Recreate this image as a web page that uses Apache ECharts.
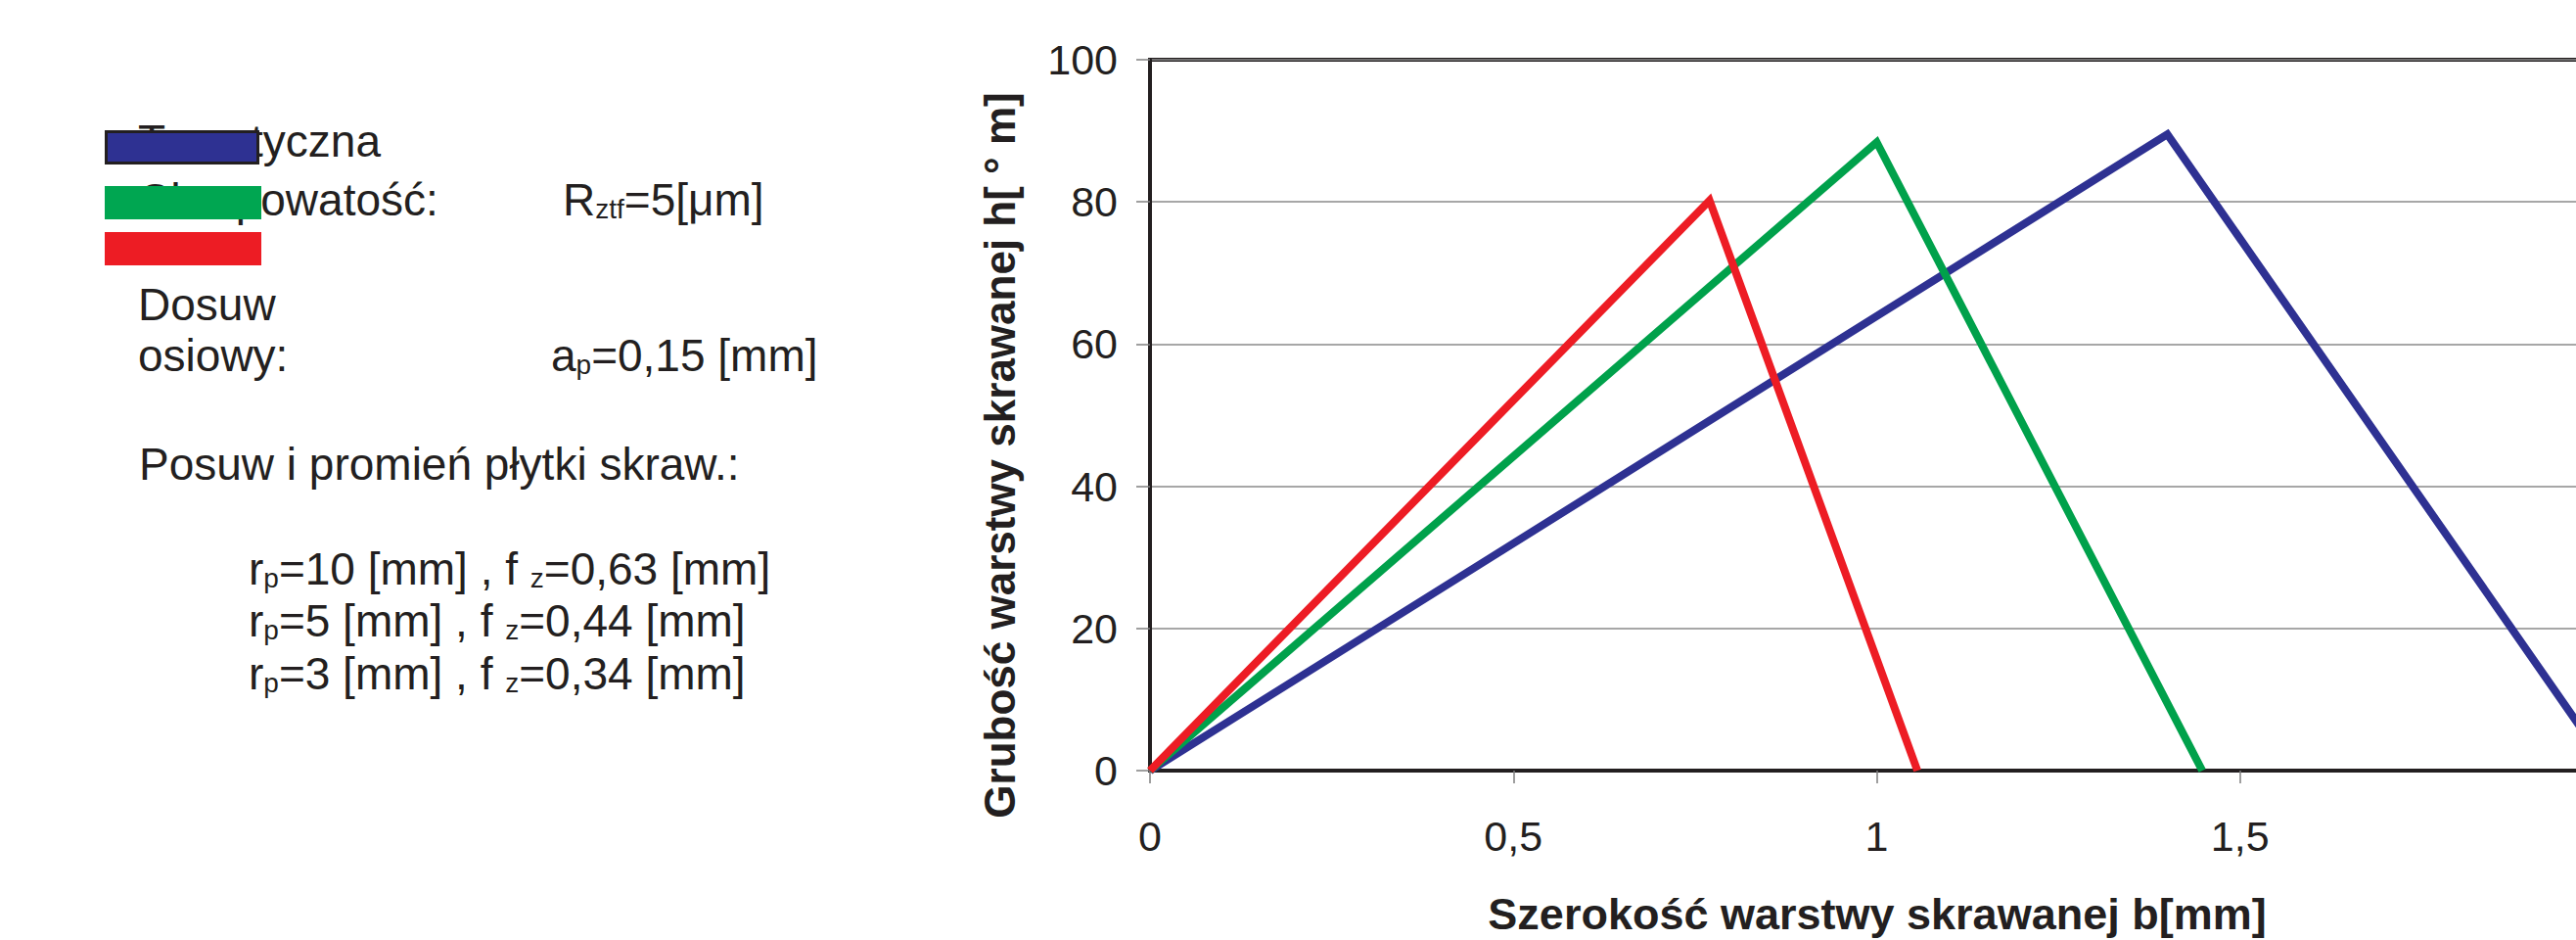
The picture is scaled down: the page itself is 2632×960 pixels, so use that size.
<!DOCTYPE html>
<html>
<head>
<meta charset="utf-8">
<title>Grubość warstwy skrawanej</title>
<script src="https://cdn.jsdelivr.net/npm/echarts@6/dist/echarts.min.js"></script>
<style>
html, body { margin: 0; padding: 0; background: #fff; overflow: hidden; }
/* wykres celowo szerszy niż okno: oś X kończy się poza kadrem */
#chart { width: 2700px; height: 960px; }
</style>
</head>
<body>
<div id="chart"></div>
<script>
// szerokość b [mm] i grubość h warstwy skrawanej dla trzech przypadków
var bTeor = [0, 1.40, 2.01];
var hTeor = [0, 89.5, 0];
var bRp5 = [0, 1.0, 1.448];
var hRp5 = [0, 88.4, 0];
var bRp3 = [0, 0.77, 1.056];
var hRp3 = [0, 80.2, 0];

var xTicks = ['0', '0,5', '1', '1,5', '2'];
var yTicks = ['0', '20', '40', '60', '80', '100'];

var seriesNames = ['Teoretyczna', 'rp=5', 'rp=3'];

// opis po lewej (n = zwykły tekst, s = indeks dolny)
var opisLinie = [
  '{n|Teoretyczna}',
  '{n|Chropowatość:}',
  '{n|R}{s|ztf}{n|=5[μm]}',
  '{n|Dosuw}',
  '{n|osiowy:}',
  '{n|a}{s|p}{n|=0,15 [mm]}',
  '{n|Posuw i promień płytki skraw.:}',
  '{n|r}{s|p}{n|=10 [mm] , f }{s|z}{n|=0,63 [mm]}',
  '{n|r}{s|p}{n|=5 [mm] , f }{s|z}{n|=0,44 [mm]}',
  '{n|r}{s|p}{n|=3 [mm] , f }{s|z}{n|=0,34 [mm]}'
];

var yTitle = 'Grubość warstwy skrawanej h[ ° m]';
var xTitle = 'Szerokość warstwy skrawanej b[mm]';

var FONT = '"Liberation Sans", Arial, sans-serif';
var INK = '#231f20';

function zip(xs, ys) {
  return xs.map(function (x, i) { return [x, ys[i]]; });
}

// tekst z indeksami, baseline podany w pikselach
function opis(x, baseline, str) {
  return {
    type: 'text',
    x: x,
    y: baseline - 43,
    z: 10,
    style: {
      text: str,
      fill: INK,
      align: 'left',
      verticalAlign: 'top',
      rich: {
        n: { fontFamily: FONT, fontSize: 46, lineHeight: 52, verticalAlign: 'bottom', fill: INK },
        s: { fontFamily: FONT, fontSize: 28, lineHeight: 34, verticalAlign: 'bottom', fill: INK }
      }
    }
  };
}

var chart = echarts.init(document.getElementById('chart'), null, { renderer: 'svg' });

var option = {
  animation: false,
  backgroundColor: '#ffffff',
  grid: {
    left: 1175,
    top: 61,
    right: 40,
    bottom: 173,
    show: true,
    borderColor: INK,
    borderWidth: 4
  },
  xAxis: {
    type: 'value',
    min: 0,
    max: 2,
    interval: 0.5,
    axisLine: { show: true, onZero: false, lineStyle: { color: INK, width: 4 } },
    axisTick: { show: true, length: 13, lineStyle: { color: '#7f7f7f', width: 1.5 } },
    axisLabel: {
      margin: 45,
      fontFamily: FONT,
      fontSize: 43,
      color: INK,
      showMaxLabel: false,
      formatter: function (v) { return xTicks[Math.round(v / 0.5)]; }
    },
    splitLine: { show: false }
  },
  yAxis: {
    type: 'value',
    min: 0,
    max: 100,
    interval: 20,
    axisLine: { show: true, lineStyle: { color: INK, width: 4 } },
    axisTick: { show: true, length: 14, lineStyle: { color: '#7f7f7f', width: 1.5 } },
    axisLabel: {
      margin: 33,
      fontFamily: FONT,
      fontSize: 43,
      color: INK,
      formatter: function (v) { return yTicks[Math.round(v / 20)]; }
    },
    splitLine: { show: true, lineStyle: { color: '#8a8a8a', width: 1.5 } }
  },
  series: [
    {
      name: seriesNames[0],
      type: 'line',
      data: zip(bTeor, hTeor),
      symbol: 'none',
      lineStyle: { color: '#2e3192', width: 8, join: 'miter', cap: 'butt' }
    },
    {
      name: seriesNames[1],
      type: 'line',
      data: zip(bRp5, hRp5),
      symbol: 'none',
      lineStyle: { color: '#00a14b', width: 8, join: 'miter', cap: 'butt' }
    },
    {
      name: seriesNames[2],
      type: 'line',
      data: zip(bRp3, hRp3),
      symbol: 'none',
      lineStyle: { color: '#ed1c24', width: 8, join: 'miter', cap: 'butt' }
    }
  ],
  graphic: [
    opis(141, 158, opisLinie[0]),
    opis(141, 218, opisLinie[1]),
    opis(575, 218, opisLinie[2]),
    opis(141, 325, opisLinie[3]),
    opis(141, 377, opisLinie[4]),
    opis(563, 377, opisLinie[5]),
    opis(142, 488, opisLinie[6]),
    opis(254, 595, opisLinie[7]),
    opis(254, 648, opisLinie[8]),
    opis(254, 702, opisLinie[9]),
    // znaczniki legendy nachodzące na tekst
    {
      type: 'rect', z: 20,
      shape: { x: 108.5, y: 134.5, width: 155, height: 32 },
      style: { fill: '#2e3192', stroke: INK, lineWidth: 3 }
    },
    {
      type: 'rect', z: 20,
      shape: { x: 107, y: 190, width: 160, height: 34 },
      style: { fill: '#00a651' }
    },
    {
      type: 'rect', z: 20,
      shape: { x: 107, y: 237, width: 160, height: 34 },
      style: { fill: '#ed1c24' }
    },
    {
      type: 'text', z: 10,
      x: 1021, y: 465,
      rotation: Math.PI / 2,
      style: {
        text: yTitle,
        fill: INK,
        font: 'bold 44px ' + FONT,
        align: 'center',
        verticalAlign: 'middle'
      }
    },
    {
      type: 'text', z: 10,
      x: 1918, y: 933,
      style: {
        text: xTitle,
        fill: INK,
        font: 'bold 45px ' + FONT,
        align: 'center',
        verticalAlign: 'middle'
      }
    }
  ]
};

chart.setOption(option);
</script>
</body>
</html>
